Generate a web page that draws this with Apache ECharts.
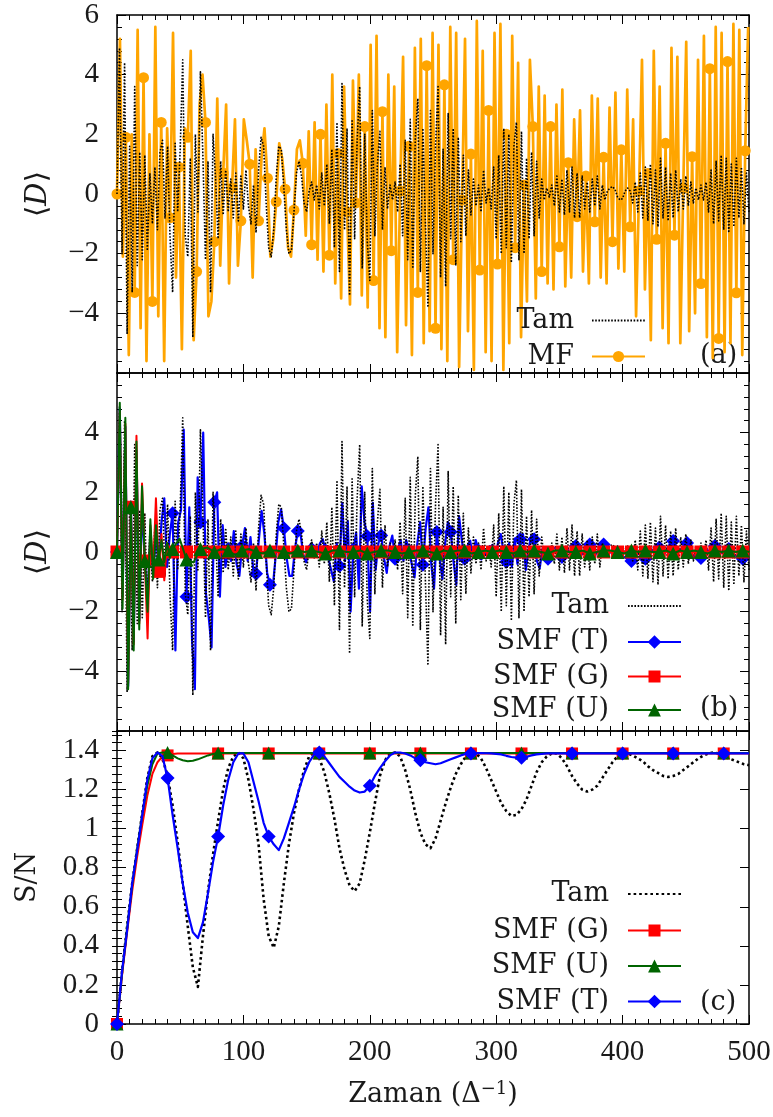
<!DOCTYPE html>
<html>
<head>
<meta charset="utf-8">
<title>Chart</title>
<script src="https://cdn.jsdelivr.net/npm/echarts@6/dist/echarts.min.js"></script>
<style>
html,body{margin:0;padding:0;background:#ffffff;}
#chart{width:773px;height:1117px;}
</style>
</head>
<body>
<div id="chart"></div>
<script>
// ---------------- data ----------------
const xRange = [0, 500];
const xTickStep = 100;

// "Tam" (exact) <D>, panels (a) and (b); t = 0, 2, 4, ... 500
const tamStep = 2;
const tam = [
 0, 4.9, -2.0, 4.4, -4.7, 1.6, -3.3, 3.6, -2.4, 1.4,
 -2.2, 1.3, -1.9, 0.7, -1.0, 0.9, -1.2, 1.4, 1.8, -0.8,
 1.6, -1.5, -3.3, 1.7, -0.6, 1.5, 4.5, -1.4, -2.1, 1.2,
 -4.8, 2.0, -0.6, 4.1, 1.2, -2.2, 1.1, -3.3, 2.0, 0.5,
 -1.5, 1.1, -0.7, 0.8, -0.6, 0.5, -0.8, 0.7, -0.9, 0.6,
 -0.5, 0.8, -0.4, -1.0, 0.3, -1.3, 0.8, 1.9, 1.6, -0.3,
 -1.8, -2.1, -1.2, 0.6, 1.6, 1.5, 0.2, -1.2, -2.0, -1.9,
 -0.6, 0.7, 1.1, 0.6, -0.3, -0.6, 0.1, 0.4, -0.2, 0.3,
 -0.5, 0.7, -0.4, 1.0, -1.0, 1.5, -1.8, 2.4, -2.6, 3.7,
 -1.2, 2.2, -3.4, 2.5, -1.5, 1.8, 3.6, -2.5, 2.0, -1.6,
 -2.9, 2.8, -1.4, 1.0, 2.1, -1.2, 0.9, -0.5, 0.3, -0.2,
 0.4, -0.6, 1.0, -1.4, 1.8, -2.2, 2.5, -2.5, 1.9, 3.2,
 -2.6, 2.2, -1.0, -3.8, 2.8, -2.0, 1.6, 3.6, -2.8, 1.5,
 -3.1, 2.7, -1.5, 2.2, -2.4, 1.9, -1.6, 1.3, -1.4, 0.8,
 -0.7, 0.5, -0.4, 0.3, -0.6, 0.8, -0.3, 0.2, -0.5, 0.9,
 -1.5, 1.3, -2.0, 2.2, -1.8, 2.0, -2.3, 1.6, 2.4, -2.2,
 2.1, -2.0, 1.2, -1.5, 1.4, -1.4, 1.1, -0.8, 0.5, -0.2,
 0.2, -0.1, 0.3, -0.4, 0.6, -0.6, 0.5, -0.7, 0.8, -0.6,
 0.9, -0.8, 0.7, -0.8, 0.6, -0.5, 0.4, -0.6, 0.5, -0.4,
 0.6, -0.5, 0.3, -0.2, 0.1, 0.2, 0.25, 0.15, -0.1, -0.2,
 -0.15, 0.1, 0.2, 0.1, -0.3, 0.4, -0.6, 0.7, -0.8, 0.9,
 -0.9, 1.0, -1.0, 0.8, -1.1, 1.2, -0.8, 0.9, -0.9, 0.7,
 -0.8, 0.8, -0.6, 0.5, -0.5, 0.6, -0.4, 0.4, -0.3, 0.2,
 -0.2, 0.3, -0.2, 0.4, -0.6, 0.8, -1.0, 1.1, -0.9, 1.3,
 -1.2, 1.2, -1.3, 1.0, -1.1, 1.2, -0.8, 0.9, -1.0, 0.7,
 -0.6
];

// "MF" <D>, panel (a); step 7/3, a marker on every 3rd point (t = 0, 7, 14, ...)
const mfStep = 7 / 3;
const mfMarkEvery = 3;
const mf = [
 0, 5.2, -2.1,   1.9, -5.4, 2.0,   -3.3, 5.5, -4.5,   3.9, -5.6, 2.0,
 -3.6, 5.6, -4.1,   2.4, -5.6, 2.2,   -0.8, 5.4, -2.8,   0.9, -5.2, 2.2,
 1.9, 4.8, -4.9,   -2.6, 3.0, 4.0,   2.4, -4.1, -3.6,   -1.6, 3.2, -2.4,
 0.7, 3.0, -3.0,   0.2, 2.5, -2.4,   -0.9, 2.5, 1.8,   1.0, -2.8, 1.5,
 -0.9, 1.2, 2.2,   0.53, -2.1, -1.5,   -0.26, 1.7, 1.2,   0.16, -1.8, -2.1,
 -0.54, 1.5, 1.8,   1.03, -1.4, 2.1,   -1.7, 2.4, -2.2,   2.0, -2.6, 3.0,
 -2.05, 4.0, -3.0,   1.36, -3.5, 3.6,   -0.6, -3.7, 3.8,   -0.3, 4.0, -3.4,
 2.26, -3.8, 5.0,   -2.9, 5.3, -4.5,   2.76, -4.8, 4.0,   -1.9, 3.6, -5.3,
 0.1, 4.6, -4.4,   1.6, -5.4, 4.9,   -3.3, 5.2, -5.0,   4.3, -4.6, 5.4,
 -4.5, 5.0, -5.2,   3.66, -5.6, 5.6,   -2.2, 5.4, -5.8,   -0.2, 5.2, -4.6,
 1.34, -5.9, 5.8,   -2.55, 4.8, -5.3,   2.8, -5.6, 5.4,   -2.35, 5.7, -5.9,
 2.0, -5.0, 5.3,   -1.8, 4.4, -4.8,   0.3, -3.6, 4.5,   2.26, -3.5, 3.6,
 -2.6, 3.3, -3.0,   2.26, -3.2, 3.0,   -1.77, 3.5, -3.1,   1.05, -2.8, 2.5,
 -0.76, 2.8, -2.6,   0.6, -3.0, 3.3,   -0.93, 3.2, -2.8,   1.23, -3.0, 2.9,
 -1.6, 3.4, -2.5,   1.48, -2.6, 3.5,   -1.1, 2.5, -4.1,   0.1, 4.5, -3.2,
 0.69, -4.9, 4.8,   -1.52, 3.6, -4.5,   1.7, -5.0, 4.9,   -1.38, 4.6, -5.0,
 0.2, 5.1, -4.6,   1.25, -4.0, 4.5,   -3.0, 5.3, -4.8,   4.2, -5.5, 5.6,
 -4.84, 5.4, -5.3,   4.44, -5.0, 5.7,   -3.31, 5.5, -5.4,   1.45, 5.6
];

// panel (b): step 2.2, a marker on every 5th point (t = 0, 11, 22, ...)
const stepB = 2.2;
const markEveryB = 5;
const smfT_b = [
 0, 4.8, -1.5, 4.2, -4.5,      1.5, -3.0, 3.4, -2.3, 1.6,
 -0.3, -1.6, 0.6, -0.8, 0.7,   -0.6, 1.0, 1.8, -0.5, 0.6,
 1.3, -3.3, 1.0, 1.4, 4.1,     -1.5, 1.5, -3.0, -4.6, 2.5,
 1.0, 4.0, -1.4, -2.2, -3.2,   1.67, 2.0, -1.5, 0.9, -0.5,
 0.1, -0.3, 0.7, -0.4, -0.8,   0.2, 0.8, -0.3, 0.5, -0.6,
 -0.73, 0.4, 1.38, 0.6, -0.7,  -1.1, -1.2, -0.2, 1.0, 1.43,
 0.8, -0.2, -0.8, -0.8, 0.1,   0.7, 0.6, -0.1, -0.34, 0.0,
 0.1, 0.2, 0.0, 0.3, 0.43,     0.05, -0.2, -0.6, -1.0, 0.3,
 -0.47, 1.65, -0.3, 1.04, -2.0, 0.1, 0.65, -1.23, 2.2, 1.0,
 0.53, -2.0, 1.65, -0.6, 0.3,  0.55, -0.2, -0.7, 0.2, 0.55,
 -0.23, 0.1, 0.4, -0.3, 0.4,   0.05, -0.4, -0.85, 0.3, 1.0,
 -0.43, 0.8, 1.5, -0.4, -1.23, 0.67, -0.2, -0.9, 0.3, 1.0,
 0.67, -0.3, -1.1, 1.2, 0.4,   -0.23, 0.2, 0.38, -0.2, 0.4,
 0.05, -0.25, 0.1, -0.15, 0.2, 0.05, -0.2, 0.3, 0.6, 0.0,
 -0.33, 0.3, -0.5, 0.45, -0.4, 0.43, 0.6, -0.6, 0.1, 0.55,
 0.43, -0.3, -0.55, 0.1, 0.15, -0.23, 0.05, 0.15, 0.1, -0.1,
 -0.17, 0.0, 0.1, -0.05, 0.15, 0.2, 0.05, -0.1, 0.0, 0.2,
 0.25, 0.1, -0.1, 0.05, 0.2,   0.25, 0.05, -0.05, 0.05, 0.0,
 0.0, -0.1, -0.15, -0.2, -0.25, -0.3, -0.2, 0.0, -0.1, -0.2,
 -0.23, 0.0, 0.1, 0.0, 0.1,    0.15, 0.0, -0.05, 0.15, 0.3,
 0.37, 0.2, 0.05, 0.1, 0.25,   0.3, 0.1, -0.1, -0.15, -0.2,
 -0.2, 0.0, 0.1, 0.0, 0.15,    0.2, 0.1, -0.05, 0.05, 0.1,
 0.1, 0.0, -0.1, -0.15, -0.2,  -0.23, -0.1, 0.05
];
// SMF (G), panel (b): early part step 2.2 (t 0..41.8), then step 11 from t = 44
const smfG_bEarly = [0, 4.7, -1.6, 4.3, -4.4, 1.5, -3.1, 3.9, -2.4, 2.3,
 -0.3, -2.9, 0.9, -0.6, 1.8, -0.65, 0.6, -0.95, 0.3, -0.1];
const smfG_bLate = [0,0,0,0,0,0,0,0,0,0, 0,0,0,0,0,0,0,0,0,0,
 0,0,0,0,0,0,0,0,0,0, 0,0,0,0,0,0,0,0,0,0, 0,0,0];
// SMF (U), panel (b): early part step 2.2, then step 5.5 from t = 44
const smfU_bEarly = [0, 5.0, -1.9, 4.5, -4.6, 1.5, -3.3, 3.7, -2.6, 2.2,
 -0.3, -2.0, 1.1, -0.9, 0.9, -0.25, 0.4, -0.35, 0.3, -0.2];
const smfU_bLate = [
 0.1, 0.45, -0.25, -0.35, 0.1, 0.15, 0, 0.1, 0.05, -0.1,
 0.05, 0.1, 0, -0.05, 0.05, 0.05, 0, -0.05, 0.05, 0,
 0.05, 0, -0.05, 0.05, 0.05, 0, 0, 0.05, -0.05, 0,
 0.05, 0.05, 0, -0.05, 0, 0.05, 0.05, 0, -0.05, 0.05,
 0, 0.05, 0.05, -0.05, 0, 0.05, 0, 0.05, 0, -0.05,
 0.05, 0, 0.05, 0, -0.05, 0.05, 0.05, 0, 0, 0.05,
 -0.05, 0, 0.05, 0.05, 0, -0.05, 0.05, 0, 0.05, 0,
 0, 0.05, -0.05, 0.05, 0, 0.05, 0, -0.05, 0.05, 0,
 0.05, 0, 0.05, 0
];

// panel (c): S/N, t = 0, 4, 8, ... 500, a marker every 10th point (t = 0, 40, 80, ...)
const stepC = 4;
const markEveryC = 10;
const tam_c = [
 0, 0.27, 0.5, 0.72, 0.9, 1.08, 1.26, 1.37, 1.39, 1.36,
 1.27, 1.12, 0.93, 0.72, 0.5, 0.29, 0.19, 0.45, 0.68, 0.87,
 1.04, 1.2, 1.31, 1.37, 1.39, 1.36, 1.25, 1.1, 0.92, 0.64,
 0.45, 0.39, 0.5, 0.72, 0.92, 1.08, 1.2, 1.3, 1.37, 1.39,
 1.36, 1.29, 1.18, 1.05, 0.9, 0.79, 0.71, 0.68, 0.72, 0.84,
 0.98, 1.13, 1.27, 1.35, 1.385, 1.39, 1.37, 1.3, 1.2, 1.08,
 0.98, 0.92, 0.9, 0.95, 1.04, 1.13, 1.21, 1.28, 1.33, 1.37,
 1.385, 1.385, 1.36, 1.31, 1.25, 1.19, 1.13, 1.09, 1.065, 1.07,
 1.1, 1.15, 1.22, 1.29, 1.34, 1.37, 1.385, 1.385, 1.36, 1.32,
 1.27, 1.23, 1.2, 1.19, 1.2, 1.22, 1.26, 1.3, 1.34, 1.37,
 1.385, 1.385, 1.375, 1.36, 1.345, 1.32, 1.3, 1.285, 1.27, 1.265,
 1.27, 1.28, 1.3, 1.32, 1.34, 1.36, 1.375, 1.385, 1.39, 1.385,
 1.375, 1.36, 1.35, 1.34, 1.33, 1.325
];
const smfG_c = [
 0, 0.25, 0.47, 0.68, 0.86, 1.02, 1.17, 1.28, 1.34, 1.37,
 1.375, 1.382, 1.385, 1.385, 1.385, 1.385, 1.385, 1.385, 1.385, 1.385,
 1.385, 1.385, 1.385, 1.385, 1.385, 1.385, 1.385, 1.385, 1.385, 1.385,
 1.385, 1.385, 1.385, 1.385, 1.385, 1.385, 1.385, 1.385, 1.385, 1.385,
 1.385, 1.385, 1.385, 1.385, 1.385, 1.385, 1.385, 1.385, 1.385, 1.385,
 1.385, 1.385, 1.385, 1.385, 1.385, 1.385, 1.385, 1.385, 1.385, 1.385,
 1.385, 1.385, 1.385, 1.385, 1.385, 1.385, 1.385, 1.385, 1.385, 1.385,
 1.385, 1.385, 1.385, 1.385, 1.385, 1.385, 1.385, 1.385, 1.385, 1.385,
 1.385, 1.385, 1.385, 1.385, 1.385, 1.385, 1.385, 1.385, 1.385, 1.385,
 1.385, 1.385, 1.385, 1.385, 1.385, 1.385, 1.385, 1.385, 1.385, 1.385,
 1.385, 1.385, 1.385, 1.385, 1.385, 1.385, 1.385, 1.385, 1.385, 1.385,
 1.385, 1.385, 1.385, 1.385, 1.385, 1.385, 1.385, 1.385, 1.385, 1.385,
 1.385, 1.385, 1.385, 1.385, 1.385, 1.385
];
const smfU_c = [
 0, 0.26, 0.49, 0.71, 0.9, 1.07, 1.22, 1.33, 1.385, 1.39,
 1.39, 1.375, 1.36, 1.35, 1.345, 1.348, 1.355, 1.365, 1.375, 1.382,
 1.387, 1.388, 1.388, 1.387, 1.387, 1.387, 1.387, 1.387, 1.387, 1.387,
 1.387, 1.387, 1.387, 1.387, 1.387, 1.387, 1.387, 1.387, 1.387, 1.387,
 1.387, 1.387, 1.387, 1.387, 1.387, 1.387, 1.387, 1.387, 1.387, 1.387,
 1.387, 1.387, 1.387, 1.387, 1.387, 1.387, 1.387, 1.387, 1.387, 1.387,
 1.387, 1.387, 1.387, 1.387, 1.387, 1.387, 1.387, 1.387, 1.387, 1.387,
 1.387, 1.387, 1.387, 1.387, 1.387, 1.387, 1.387, 1.387, 1.387, 1.387,
 1.387, 1.387, 1.387, 1.387, 1.387, 1.387, 1.387, 1.387, 1.387, 1.387,
 1.387, 1.387, 1.387, 1.387, 1.387, 1.387, 1.387, 1.387, 1.387, 1.387,
 1.387, 1.387, 1.387, 1.387, 1.387, 1.387, 1.387, 1.387, 1.387, 1.387,
 1.387, 1.387, 1.387, 1.387, 1.387, 1.387, 1.387, 1.387, 1.387, 1.387,
 1.387, 1.387, 1.387, 1.387, 1.387, 1.387
];
const smfT_c = [
 0, 0.27, 0.48, 0.72, 0.89, 1.07, 1.25, 1.36, 1.39, 1.37,
 1.26, 1.07, 0.9, 0.72, 0.57, 0.47, 0.44, 0.52, 0.67, 0.83,
 0.96, 1.12, 1.25, 1.34, 1.385, 1.385, 1.34, 1.24, 1.14, 1.03,
 0.96, 0.92, 0.89, 0.95, 1.03, 1.11, 1.2, 1.28, 1.34, 1.38,
 1.39, 1.37, 1.335, 1.3, 1.265, 1.24, 1.215, 1.195, 1.185, 1.19,
 1.22, 1.27, 1.31, 1.345, 1.375, 1.39, 1.39, 1.385, 1.375, 1.36,
 1.35, 1.34, 1.335, 1.33, 1.335, 1.345, 1.355, 1.365, 1.375, 1.382,
 1.385, 1.387, 1.387, 1.386, 1.385, 1.383, 1.38, 1.373, 1.367, 1.364,
 1.363, 1.368, 1.375, 1.38, 1.383, 1.385, 1.385, 1.385, 1.385, 1.385,
 1.385, 1.385, 1.385, 1.385, 1.385, 1.385, 1.385, 1.385, 1.385, 1.385,
 1.385, 1.385, 1.385, 1.385, 1.385, 1.385, 1.385, 1.385, 1.385, 1.385,
 1.385, 1.385, 1.385, 1.385, 1.385, 1.385, 1.385, 1.385, 1.385, 1.385,
 1.385, 1.385, 1.385, 1.385, 1.385, 1.385
];

// ---------------- styling / layout ----------------
const FONT_NUM = "'Liberation Serif', 'DejaVu Serif', serif";
const FONT_TXT = "'DejaVu Serif', 'Liberation Serif', serif";
const TXT = '#1a1a1a';
const NUM_SIZE = 29;
const TXT_SIZE = 27;
const COL = { orange: '#FFA500', blue: '#0000FF', red: '#FF0000', green: '#006400', black: '#000000' };

function pts(t0, step, vals, every) {
  return vals.map(function (v, i) {
    const o = { value: [Math.round((t0 + i * step) * 10000) / 10000, v] };
    if (!every || i % every !== 0) o.symbol = 'none';
    return o;
  });
}
const minus = function (v) { return v < 0 ? '\u2212' + Math.abs(v) : String(v); };

const tickStyle = { color: '#000', width: 1 };
function xAx(grid, pos, labels, extra) {
  return Object.assign({
    type: 'value', gridIndex: grid, position: pos, min: xRange[0], max: xRange[1], interval: xTickStep,
    axisLine: { show: true, onZero: false, lineStyle: { color: '#000', width: 1.5 } },
    axisTick: { show: true, inside: true, length: 9, lineStyle: tickStyle },
    minorTick: { show: true, splitNumber: 10, length: 5, lineStyle: tickStyle },
    splitLine: { show: false }, minorSplitLine: { show: false },
    axisLabel: { show: labels, margin: 14, color: TXT, fontSize: NUM_SIZE, fontFamily: FONT_NUM },
    nameMoveOverlap: false
  }, extra || {});
}
function yAx(grid, pos, min, max, interval, labels, extra, lab, minorOn) {
  return Object.assign({
    type: 'value', gridIndex: grid, position: pos, min: min, max: max, interval: interval,
    axisLine: { show: true, onZero: false, lineStyle: { color: '#000', width: 1.5 } },
    axisTick: { show: true, inside: true, length: 9, lineStyle: tickStyle },
    minorTick: { show: minorOn !== false, splitNumber: 5, length: 5, lineStyle: tickStyle },
    splitLine: { show: false }, minorSplitLine: { show: false },
    axisLabel: Object.assign({ show: labels, margin: 18, color: TXT, fontSize: NUM_SIZE, fontFamily: FONT_NUM, formatter: minus }, lab || {}),
    nameMoveOverlap: false
  }, extra || {});
}
// helper axis that only draws the small ticks (every 0.04) of panel (c)
function yMinor(grid, pos) {
  return {
    type: 'value', gridIndex: grid, position: pos, min: 0, max: 1.5, interval: 0.04,
    axisLine: { show: false }, axisLabel: { show: false }, splitLine: { show: false },
    axisTick: { show: true, inside: true, length: 5, lineStyle: tickStyle },
    minorTick: { show: false }
  };
}
const dName = {
  name: '\u27E8{i|D}\u27E9', nameLocation: 'middle', nameGap: 64,
  nameTextStyle: { color: TXT, fontSize: 29, fontFamily: FONT_TXT, lineHeight: 30,
    rich: { i: { fontStyle: 'italic', fontSize: 29, fontFamily: FONT_TXT, color: TXT } } }
};

function ser(name, grid, data, color, width, symbol, size, z, dash) {
  return {
    name: name, type: 'line', xAxisIndex: grid * 2, yAxisIndex: grid * 2, data: data,
    symbol: symbol || 'none', symbolSize: size || 0, showSymbol: !!symbol, showAllSymbol: true,
    lineStyle: { color: color, width: width, type: dash || 'solid', join: 'round', cap: 'butt' },
    itemStyle: { color: color }, z: z, silent: true, animation: false, clip: true,
    emphasis: { disabled: true }
  };
}

function leg(name, right, cy, h, hideSym, padR) {
  return {
    data: [hideSym ? { name: name, itemStyle: { opacity: 0 } } : { name: name }],
    right: right, top: cy - 15, orient: 'horizontal', align: 'right', padding: 0,
    itemWidth: 53, itemHeight: h, selectedMode: false,
    formatter: function (n) { return n.split('|')[0]; },
    textStyle: { fontSize: TXT_SIZE, fontFamily: FONT_TXT, color: TXT, lineHeight: 30, padding: [0, padR, 0, 0] }
  };
}

const option = {
  backgroundColor: '#ffffff',
  animation: false,
  grid: [
    { left: 117, right: 24, top: 15, height: 358, containLabel: false, outerBoundsMode: 'none' },
    { left: 117, right: 24, top: 373, height: 358, containLabel: false, outerBoundsMode: 'none' },
    { left: 117, right: 24, top: 731, height: 293, containLabel: false, outerBoundsMode: 'none' }
  ],
  xAxis: [
    xAx(0, 'bottom', false), xAx(0, 'top', false),
    xAx(1, 'bottom', false), xAx(1, 'top', false),
    xAx(2, 'bottom', true, {
      name: 'Zaman (\u0394{sup|\u22121})', nameLocation: 'middle', nameGap: 56,
      nameTextStyle: { color: TXT, fontSize: TXT_SIZE, fontFamily: FONT_TXT, lineHeight: 30,
        rich: { sup: { fontSize: 18, fontFamily: FONT_TXT, color: TXT, verticalAlign: 'top', lineHeight: 18 } } }
    }),
    xAx(2, 'top', false)
  ],
  yAxis: [
    yAx(0, 'left', -6, 6, 2, true, dName, { showMinLabel: false }),
    yAx(0, 'right', -6, 6, 2, false),
    yAx(1, 'left', -6, 6, 2, true, dName, { showMinLabel: false, showMaxLabel: false }),
    yAx(1, 'right', -6, 6, 2, false),
    yAx(2, 'left', 0, 1.5, 0.2, true, {
      name: 'S/N', nameLocation: 'middle', nameGap: 74,
      nameTextStyle: { color: TXT, fontSize: TXT_SIZE, fontFamily: FONT_TXT, lineHeight: 30 }
    }, { showMaxLabel: false }, false),
    yAx(2, 'right', 0, 1.5, 0.2, false, null, null, false),
    yMinor(2, 'left'),
    yMinor(2, 'right')
  ],
  legend: [
    leg('Tam|a', 127, 320.5, 12, true, 13),
    leg('MF|a', 127, 356.5, 14, false, 13),
    leg('Tam|b', 91, 606, 12, true, 14),
    leg('SMF (T)|b', 91, 642, 17, false, 14),
    leg('SMF (G)|b', 91, 676.5, 15, false, 14),
    leg('SMF (U)|b', 91, 710, 16, false, 14),
    leg('Tam|c', 91, 894, 12, true, 14),
    leg('SMF (G)|c', 91, 930.5, 15, false, 14),
    leg('SMF (U)|c', 91, 966, 16, false, 14),
    leg('SMF (T)|c', 91, 1001.5, 17, false, 14)
  ],
  graphic: [
    { type: 'text', x: 700, y: 356, silent: true, style: { text: '(a)', align: 'left', verticalAlign: 'middle', fontSize: TXT_SIZE, fontFamily: FONT_TXT, fill: TXT } },
    { type: 'text', x: 700, y: 709, silent: true, style: { text: '(b)', align: 'left', verticalAlign: 'middle', fontSize: TXT_SIZE, fontFamily: FONT_TXT, fill: TXT } },
    { type: 'text', x: 700, y: 1003, silent: true, style: { text: '(c)', align: 'left', verticalAlign: 'middle', fontSize: TXT_SIZE, fontFamily: FONT_TXT, fill: TXT } }
  ],
  series: [
    // panel (a)
    ser('MF|a', 0, pts(0, mfStep, mf, mfMarkEvery), COL.orange, 2.7, 'circle', 11, 2),
    ser('Tam|a', 0, pts(0, tamStep, tam, 0), COL.black, 1.6, null, 0, 3, [1.6, 1.6]),
    // panel (b)
    ser('SMF (T)|b', 1, pts(0, stepB, smfT_b, markEveryB), COL.blue, 2.2, 'diamond', 14, 2),
    ser('Tam|b', 1, pts(0, tamStep, tam, 0), COL.black, 1.6, null, 0, 3, [1.6, 1.6]),
    ser('SMF (G)|b', 1, pts(0, stepB, smfG_bEarly, markEveryB).concat(pts(44, 11, smfG_bLate, 1)), COL.red, 2, 'rect', 13, 4),
    ser('SMF (U)|b', 1, pts(0, stepB, smfU_bEarly, markEveryB).concat(pts(44, 5.5, smfU_bLate, 2)), COL.green, 2, 'triangle', 14, 5),
    // panel (c)
    ser('Tam|c', 2, pts(0, stepC, tam_c, 0), COL.black, 2.6, null, 0, 2, [2.6, 3]),
    ser('SMF (G)|c', 2, pts(0, stepC, smfG_c, markEveryC), COL.red, 2, 'rect', 12, 3),
    ser('SMF (U)|c', 2, pts(0, stepC, smfU_c, markEveryC), COL.green, 2, 'triangle', 13, 4),
    ser('SMF (T)|c', 2, pts(0, stepC, smfT_c, markEveryC), COL.blue, 2.2, 'diamond', 14, 5)
  ]
};

const chart = echarts.init(document.getElementById('chart'), null, { renderer: 'canvas' });
chart.setOption(option);
</script>
</body>
</html>
